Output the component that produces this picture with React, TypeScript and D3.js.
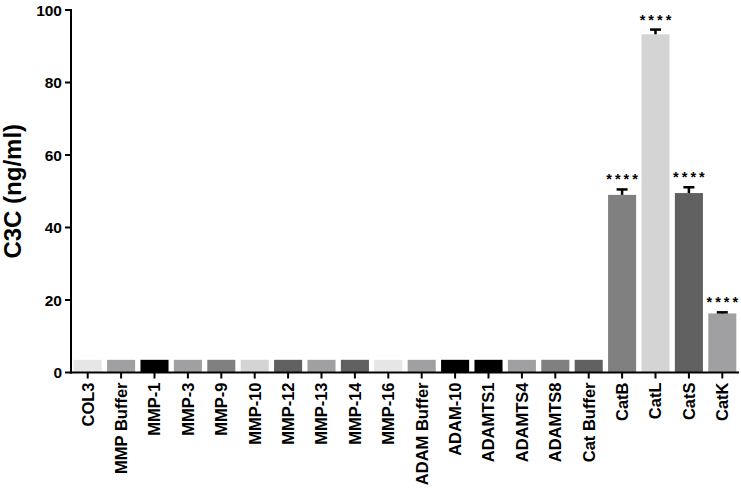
import React from "react";
import * as d3 from "d3";

const categories = ["COL3","MMP Buffer","MMP-1","MMP-3","MMP-9","MMP-10","MMP-12","MMP-13","MMP-14","MMP-16","ADAM Buffer","ADAM-10","ADAMTS1","ADAMTS4","ADAMTS8","Cat Buffer","CatB","CatL","CatS","CatK"];
const values = [3.5,3.5,3.5,3.5,3.5,3.5,3.5,3.5,3.5,3.5,3.5,3.5,3.5,3.5,3.5,3.5,49,93.3,49.5,16.3];
const errors = [0,0,0,0,0,0,0,0,0,0,0,0,0,0,0,0,1.5,1.3,1.6,0.3];
const colors = ["#e6e6e6","#a0a0a2","#000000","#a0a0a2","#808080","#d4d4d4","#606060","#a0a0a2","#606060","#e6e6e6","#a0a0a2","#000000","#000000","#a0a0a2","#808080","#606060","#808080","#d4d4d4","#606060","#a0a0a2"];
const signif = ["","","","","","","","","","","","","","","","","****","****","****","****"];
const yTicks = [0,20,40,60,80,100];

export default function App() {
  const W = 741, H = 494;
  const x0 = 71, x1 = 739, yTop = 10, yBot = 372.5;
  const x = d3.scaleBand<string>().domain(categories).range([x0, x1]).paddingInner(0.16).paddingOuter(0.08);
  const y = d3.scaleLinear().domain([0, 100]).range([yBot, yTop]);
  const font = "'Liberation Sans', Arial, sans-serif";
  return (
    <svg width={W} height={H} style={{ position: "absolute", left: 0, top: 0 }} fontFamily={font}>
      <rect width={W} height={H} fill="#fff" />
      {categories.map((c, i) => {
        const bx = x(c)!;
        const bw = x.bandwidth();
        const cx = bx + bw / 2;
        const top = y(values[i]);
        const e = errors[i];
        const et = y(values[i] + e);
        return (
          <g key={c}>
            <rect x={bx} y={top} width={bw} height={yBot - top} fill={colors[i]} />
            {e > 0 && (
              <g stroke="#000" strokeWidth={2.5}>
                <line x1={cx} x2={cx} y1={top} y2={et} />
                <line x1={cx - 5.5} x2={cx + 5.5} y1={et} y2={et} />
              </g>
            )}
            {signif[i] && (
              <text x={cx + 1.5} y={et - 5} textAnchor="middle" fontSize={14.5} letterSpacing={3} fontWeight="bold" fill="#000">{signif[i]}</text>
            )}
          </g>
        );
      })}
      <line x1={x0} x2={x0} y1={yTop - 1} y2={yBot + 1} stroke="#000" strokeWidth={2} />
      <line x1={x0 - 1} x2={x1} y1={yBot} y2={yBot} stroke="#000" strokeWidth={2} />
      {yTicks.map(t => (
        <g key={t}>
          <line x1={x0 - 6} x2={x0} y1={y(t)} y2={y(t)} stroke="#000" strokeWidth={2} />
          <text x={x0 - 9} y={y(t)} dy="0.36em" textAnchor="end" fontSize={15.5} fontWeight="bold">{t}</text>
        </g>
      ))}
      {categories.map(c => {
        const cx = x(c)! + x.bandwidth() / 2;
        return (
          <g key={"t" + c}>
            <line x1={cx} x2={cx} y1={yBot} y2={yBot + 6} stroke="#000" strokeWidth={2} />
            <text transform={`translate(${cx},${yBot + 10}) rotate(-90)`} dy="0.36em" textAnchor="end" fontSize={16.5} fontWeight="bold">{c}</text>
          </g>
        );
      })}
      <text transform={`translate(21,${(yTop + yBot) / 2}) rotate(-90)`} textAnchor="middle" fontSize={24} fontWeight="bold">C3C (ng/ml)</text>
    </svg>
  );
}
